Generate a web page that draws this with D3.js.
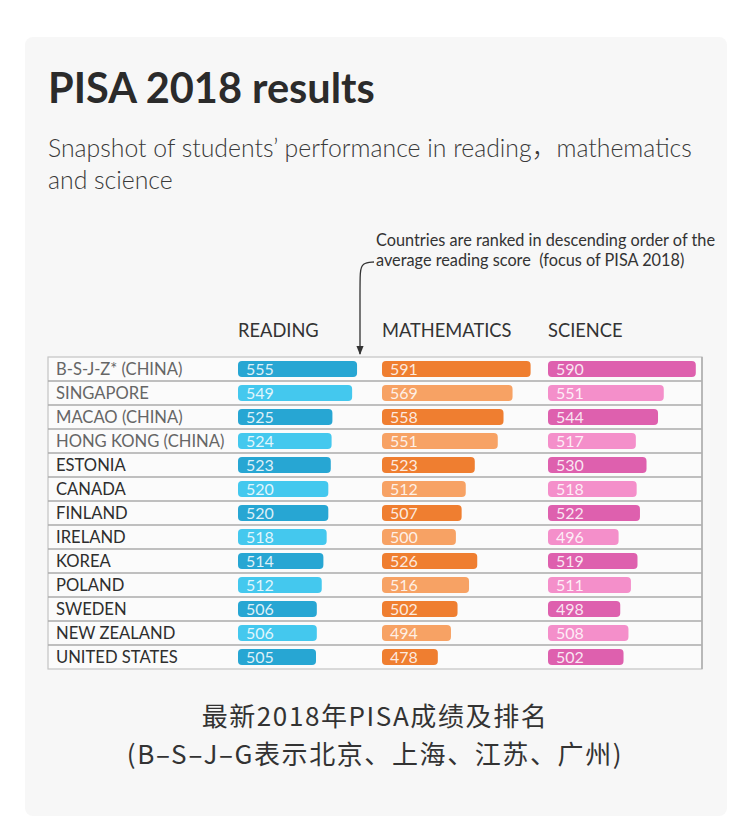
<!DOCTYPE html>
<html>
<head>
<meta charset="utf-8">
<script src="https://cdn.jsdelivr.net/npm/d3@7"></script>
<style>
  html, body { margin: 0; padding: 0; background: #ffffff; }
  svg { display: block; }
  text { white-space: pre; }
</style>
</head>
<body>
<svg id="chart" width="750" height="830"></svg>
<script>
// ---- data ----
const countries = ["B-S-J-Z* (CHINA)", "SINGAPORE", "MACAO (CHINA)", "HONG KONG (CHINA)", "ESTONIA", "CANADA", "FINLAND", "IRELAND", "KOREA", "POLAND", "SWEDEN", "NEW ZEALAND", "UNITED STATES"];
const reading = [555, 549, 525, 524, 523, 520, 520, 518, 514, 512, 506, 506, 505];
const mathematics = [591, 569, 558, 551, 523, 512, 507, 500, 526, 516, 502, 494, 478];
const science = [590, 551, 544, 517, 530, 518, 522, 496, 519, 511, 498, 508, 502];
const subjects = ["READING", "MATHEMATICS", "SCIENCE"];

const title = "PISA 2018 results";
const subtitleLines = ["Snapshot of students\u2019 performance in reading\uFF0Cmathematics", "and science"];
const noteLines = ["Countries are ranked in descending order of the", "average reading score  (focus of PISA 2018)"];
const captionLines = ["最新2018年PISA成绩及排名", "(B\u2013S\u2013J\u2013G表示北京、上海、江苏、广州)"];

// ---- layout ----
const svg = d3.select("#chart");
const latin = "Lato, 'Noto Sans CJK SC', 'Open Sans', 'DejaVu Sans', sans-serif";
const cjk = "'Noto Sans CJK SC', 'Noto Sans', sans-serif";

// card
svg.append("rect").attr("x", 25).attr("y", 37).attr("width", 702).attr("height", 779)
  .attr("rx", 8).attr("fill", "#f7f7f7");

svg.append("text").attr("x", 48).attr("y", 103).text(title)
  .attr("font-family", latin).attr("font-weight", 700).attr("font-size", 41.5).attr("fill", "#2b2b2b");

svg.append("g").selectAll("text").data(subtitleLines).join("text")
  .attr("x", 48).attr("y", (d, i) => 157 + i * 32).text(d => d)
  .attr("font-family", latin).attr("font-weight", 300).attr("font-size", 24.8).attr("fill", "#3a3a3a");

svg.append("g").selectAll("text").data(noteLines).join("text")
  .attr("x", 376).attr("y", (d, i) => 246 + i * 20).text(d => d)
  .attr("font-family", latin).attr("font-size", 16.3).attr("fill", "#333");

// arrow
const defs = svg.append("defs");
defs.append("marker").attr("id", "arr").attr("viewBox", "0 0 10 10")
  .attr("refX", 9).attr("refY", 5).attr("markerWidth", 7).attr("markerHeight", 7)
  .attr("orient", "auto")
  .append("path").attr("d", "M0,1 L10,5 L0,9 Z").attr("fill", "#333");
svg.append("path")
  .attr("d", d3.line().curve(d3.curveBasis)([[374, 262], [362, 263], [360, 272], [360, 290], [360, 354]]))
  .attr("fill", "none").attr("stroke", "#333").attr("stroke-width", 1.3)
  .attr("marker-end", "url(#arr)");

// table
const tableX0 = 48, tableX1 = 702, tableY0 = 357, rowH = 24;
const y = d3.scaleBand().domain(countries).range([tableY0, tableY0 + rowH * countries.length]).padding(0);
const w = d3.scaleLinear().domain([410, 600]).range([0, 156]);
const colX = { READING: 238, MATHEMATICS: 382, SCIENCE: 548 };
const colors = {
  READING: ["#27a6d3", "#44c8ee"],
  MATHEMATICS: ["#ef7e30", "#f7a264"],
  SCIENCE: ["#de60ae", "#f48fca"]
};
const values = { READING: reading, MATHEMATICS: mathematics, SCIENCE: science };

svg.append("rect").attr("x", tableX0).attr("y", tableY0)
  .attr("width", tableX1 - tableX0).attr("height", rowH * countries.length)
  .attr("fill", "#fbfbfb").attr("stroke", "#c4c4c4").attr("stroke-width", 1.2);

svg.append("g").selectAll("line").data(countries.slice(1)).join("line")
  .attr("x1", tableX0).attr("x2", tableX1)
  .attr("y1", d => y(d)).attr("y2", d => y(d))
  .attr("stroke", "#ababab").attr("stroke-width", 1.6);
svg.append("line").attr("x1", tableX1).attr("x2", tableX1)
  .attr("y1", tableY0).attr("y2", tableY0 + rowH * countries.length)
  .attr("stroke", "#b0b0b0").attr("stroke-width", 1.6);

// headers
svg.append("g").selectAll("text").data(subjects).join("text")
  .attr("x", d => colX[d]).attr("y", 337).text(d => d)
  .attr("font-family", latin).attr("font-size", 18.3).attr("fill", "#333");

// country labels
svg.append("g").selectAll("text").data(countries).join("text")
  .attr("x", 56).attr("y", d => y(d) + y.bandwidth() / 2 + 5.8).text(d => d)
  .attr("font-family", latin).attr("font-size", 16.6)
  .attr("fill", (d, i) => i < 4 ? "#666" : "#2e2e2e");

// bars
subjects.forEach(s => {
  const g = svg.append("g");
  const data = countries.map((c, i) => ({ c, i, v: values[s][i] }));
  g.selectAll("rect").data(data).join("rect")
    .attr("x", colX[s]).attr("y", d => y(d.c) + 4)
    .attr("width", d => w(d.v)).attr("height", 16).attr("rx", 4)
    .attr("fill", d => colors[s][d.i % 2]);
  g.selectAll("text").data(data).join("text")
    .attr("x", colX[s] + 8).attr("y", d => y(d.c) + y.bandwidth() / 2 + 5.8)
    .text(d => d.v)
    .attr("font-family", latin).attr("font-size", 16)
    .attr("fill", "#ffffff").attr("fill-opacity", 0.85);
});

// caption
svg.append("g").selectAll("text").data(captionLines).join("text")
  .attr("x", 375).attr("y", (d, i) => 726 + i * 38).attr("text-anchor", "middle").text(d => d)
  .attr("font-family", cjk).attr("font-size", 26).attr("letter-spacing", 1.6).attr("fill", "#333");
</script>
</body>
</html>
